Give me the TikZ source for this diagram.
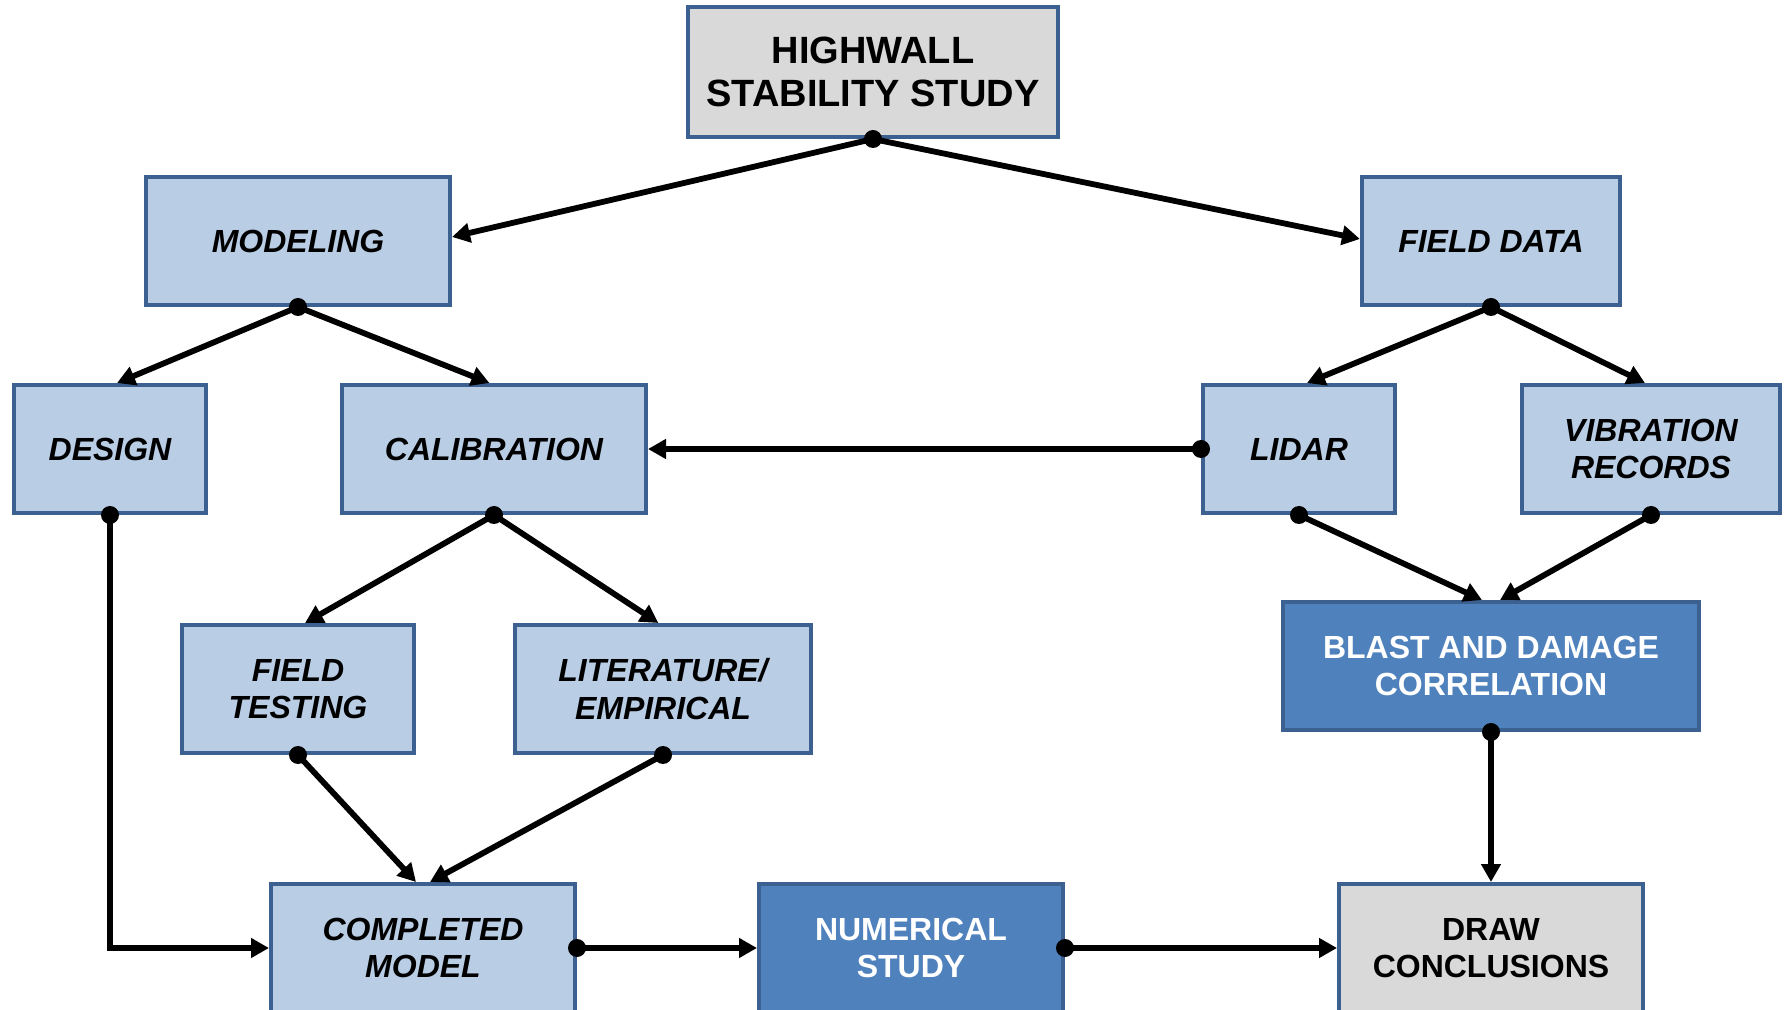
\documentclass[tikz,border=0pt]{standalone}
\usepackage{fontspec}
\setmainfont{Liberation Sans}
\usetikzlibrary{arrows.meta}
\definecolor{lightbox}{HTML}{B9CDE5}
\definecolor{darkbox}{HTML}{4F81BD}
\definecolor{graybox}{HTML}{D9D9D9}
\definecolor{boxline}{HTML}{3C6090}
\tikzset{
  basebox/.style={draw=boxline, line width=2pt, rectangle, align=center, inner sep=0pt,
    font=\fontsize{16}{18.6}\selectfont\bfseries},
  lightnode/.style={basebox, fill=lightbox, font=\fontsize{16}{18.6}\selectfont\bfseries\itshape},
  darknode/.style={basebox, fill=darkbox, text=white},
  graynode/.style={basebox, fill=graybox},
  conn/.style={line width=2.9pt, -{Triangle[length=9pt,width=9.5pt]}},
  dot/.style={fill=black}
}
\begin{document}
\begin{tikzpicture}[x=0.5pt,y=-0.5pt]
\clip (0,0) rectangle (1785,1010);
\fill[white] (0,0) rectangle (1785,1010);

\node[graynode, minimum width=185pt, minimum height=65pt, font=\fontsize{19}{21.8}\selectfont\bfseries] (hw) at (873,72) {HIGHWALL\\STABILITY STUDY};
\node[lightnode, minimum width=152pt, minimum height=64pt] (mod) at (298,241) {MODELING};
\node[lightnode, minimum width=129pt, minimum height=64pt] (fd) at (1491,241) {FIELD DATA};
\node[lightnode, minimum width=96pt, minimum height=64pt] (des) at (110,449) {DESIGN};
\node[lightnode, minimum width=152pt, minimum height=64pt] (cal) at (494,449) {CALIBRATION};
\node[lightnode, minimum width=96pt, minimum height=64pt] (lid) at (1299,449) {LIDAR};
\node[lightnode, minimum width=129pt, minimum height=64pt] (vib) at (1651,449) {VIBRATION\\RECORDS};
\node[lightnode, minimum width=116pt, minimum height=64pt] (ft) at (298,689) {FIELD\\TESTING};
\node[lightnode, minimum width=148pt, minimum height=64pt] (lit) at (663,689) {LITERATURE/\\EMPIRICAL};
\node[darknode, minimum width=208pt, minimum height=64pt] (bdc) at (1491,666) {BLAST AND DAMAGE\\CORRELATION};
\node[lightnode, minimum width=152pt, minimum height=64pt] (cm) at (423,948) {COMPLETED\\MODEL};
\node[darknode, minimum width=152pt, minimum height=64pt] (ns) at (911,948) {NUMERICAL\\STUDY};
\node[graynode, minimum width=152pt, minimum height=64pt] (dc) at (1491,948) {DRAW\\CONCLUSIONS};

% connectors
\draw[conn] (hw.south) -- ([yshift=2pt]mod.east);
\draw[conn] (hw.south) -- ([yshift=1pt]fd.west);
\draw[conn] (mod.south) -- ([xshift=3.5pt]des.north);
\draw[conn] (mod.south) -- ([xshift=-2.3pt]cal.north);
\draw[conn] (fd.south) -- ([xshift=4pt]lid.north);
\draw[conn] (fd.south) -- ([xshift=-3pt]vib.north);
\draw[conn] (lid.west) -- (cal.east);
\draw[conn] (des.south) |- (cm.west);
\draw[conn] (cal.south) -- ([xshift=3.5pt]ft.north);
\draw[conn] (cal.south) -- ([xshift=-2.3pt]lit.north);
\draw[conn] (lid.south) -- ([xshift=-4.5pt]bdc.north);
\draw[conn] (vib.south) -- ([xshift=4.5pt]bdc.north);
\draw[conn] (ft.south) -- ([xshift=-3.5pt]cm.north);
\draw[conn] (lit.south) -- ([xshift=3.5pt]cm.north);
\draw[conn] (bdc.south) -- (dc.north);
\draw[conn] (cm.east) -- (ns.west);
\draw[conn] (ns.east) -- (dc.west);

% dots
\foreach \p in {hw.south, mod.south, fd.south, lid.west, des.south, cal.south, lid.south, vib.south, ft.south, lit.south, bdc.south, cm.east, ns.east}
  \fill[dot] (\p) circle (4.5pt);
\end{tikzpicture}
\end{document}
